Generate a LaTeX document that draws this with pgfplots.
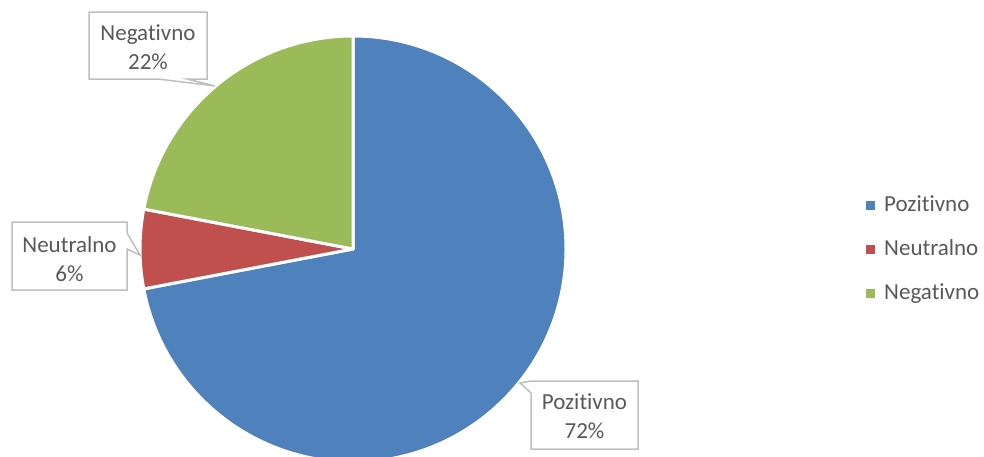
\documentclass[border=0pt]{standalone}
\usepackage{pgfplots}
\pgfplotsset{compat=1.18}
\usepackage{fontspec}
\setmainfont{Carlito}[Ligatures=NoCommon]

\definecolor{cPos}{HTML}{4F81BD}
\definecolor{cNeu}{HTML}{C0504D}
\definecolor{cNeg}{HTML}{9BBB59}
\definecolor{txt}{HTML}{595959}
\definecolor{callout}{HTML}{BFBFBF}

% shares in percent
\def\vPos{72}
\def\vNeu{6}
\def\vNeg{22}
\pgfmathsetmacro\aA{90}
\pgfmathsetmacro\aB{\aA-\vPos*3.6}
\pgfmathsetmacro\aC{\aB-\vNeu*3.6}
\pgfmathsetmacro\aD{\aC-\vNeg*3.6}
\def\R{213pt}

\begin{document}
\begin{tikzpicture}[lbl/.style={anchor=base, inner sep=0pt, text=txt, font=\fontsize{23}{28}\selectfont}]
\begin{axis}[
    x=1pt, y=1pt, y dir=reverse,
    xmin=0, xmax=984, ymin=0, ymax=456,
    hide axis,
]
% slices, clockwise from 12 o'clock
\fill[cPos, draw=white, line width=3pt, line join=round] (axis cs:353,249) -- ++(\aA:\R) arc[start angle=\aA, end angle=\aB, radius=\R] -- cycle;
\fill[cNeu, draw=white, line width=3pt, line join=round] (axis cs:353,249) -- ++(\aB:\R) arc[start angle=\aB, end angle=\aC, radius=\R] -- cycle;
\fill[cNeg, draw=white, line width=3pt, line join=round] (axis cs:353,249) -- ++(\aC:\R) arc[start angle=\aC, end angle=\aD, radius=\R] -- cycle;

% callouts
\filldraw[fill=white, draw=callout, line width=1.5pt] (axis cs:89,12) -- (axis cs:207,12) -- (axis cs:207,79) -- (axis cs:187,79) -- (axis cs:215,86) -- (axis cs:158,79) -- (axis cs:89,79) -- cycle;
\filldraw[fill=white, draw=callout, line width=1.5pt] (axis cs:12,222) -- (axis cs:127,222) -- (axis cs:127,233) -- (axis cs:140,255) -- (axis cs:127,249) -- (axis cs:127,290) -- (axis cs:12,290) -- cycle;
\filldraw[fill=white, draw=callout, line width=1.5pt] (axis cs:531,381) -- (axis cs:638,381) -- (axis cs:638,449) -- (axis cs:531,449) -- (axis cs:531,393) -- (axis cs:520,383) -- cycle;

\node[lbl] at (axis cs:148,40) {Negativno};
\node[lbl] at (axis cs:148,69) {22\%};
\node[lbl] at (axis cs:69.5,252) {Neutralno};
\node[lbl] at (axis cs:69.5,281) {6\%};
\node[lbl] at (axis cs:584.5,409) {Pozitivno};
\node[lbl] at (axis cs:584.5,438) {72\%};

% legend
\fill[cPos] (axis cs:866,200.5) rectangle (axis cs:875,209.5);
\fill[cNeu] (axis cs:866,244.5) rectangle (axis cs:875,253.5);
\fill[cNeg] (axis cs:866,288.5) rectangle (axis cs:875,297.5);
\node[lbl, anchor=base west] at (axis cs:884,211) {Pozitivno};
\node[lbl, anchor=base west] at (axis cs:884,255) {Neutralno};
\node[lbl, anchor=base west] at (axis cs:884,299) {Negativno};
\end{axis}
\pgfresetboundingbox
\path (current axis.south west) rectangle (current axis.north east);
\end{tikzpicture}
\end{document}
